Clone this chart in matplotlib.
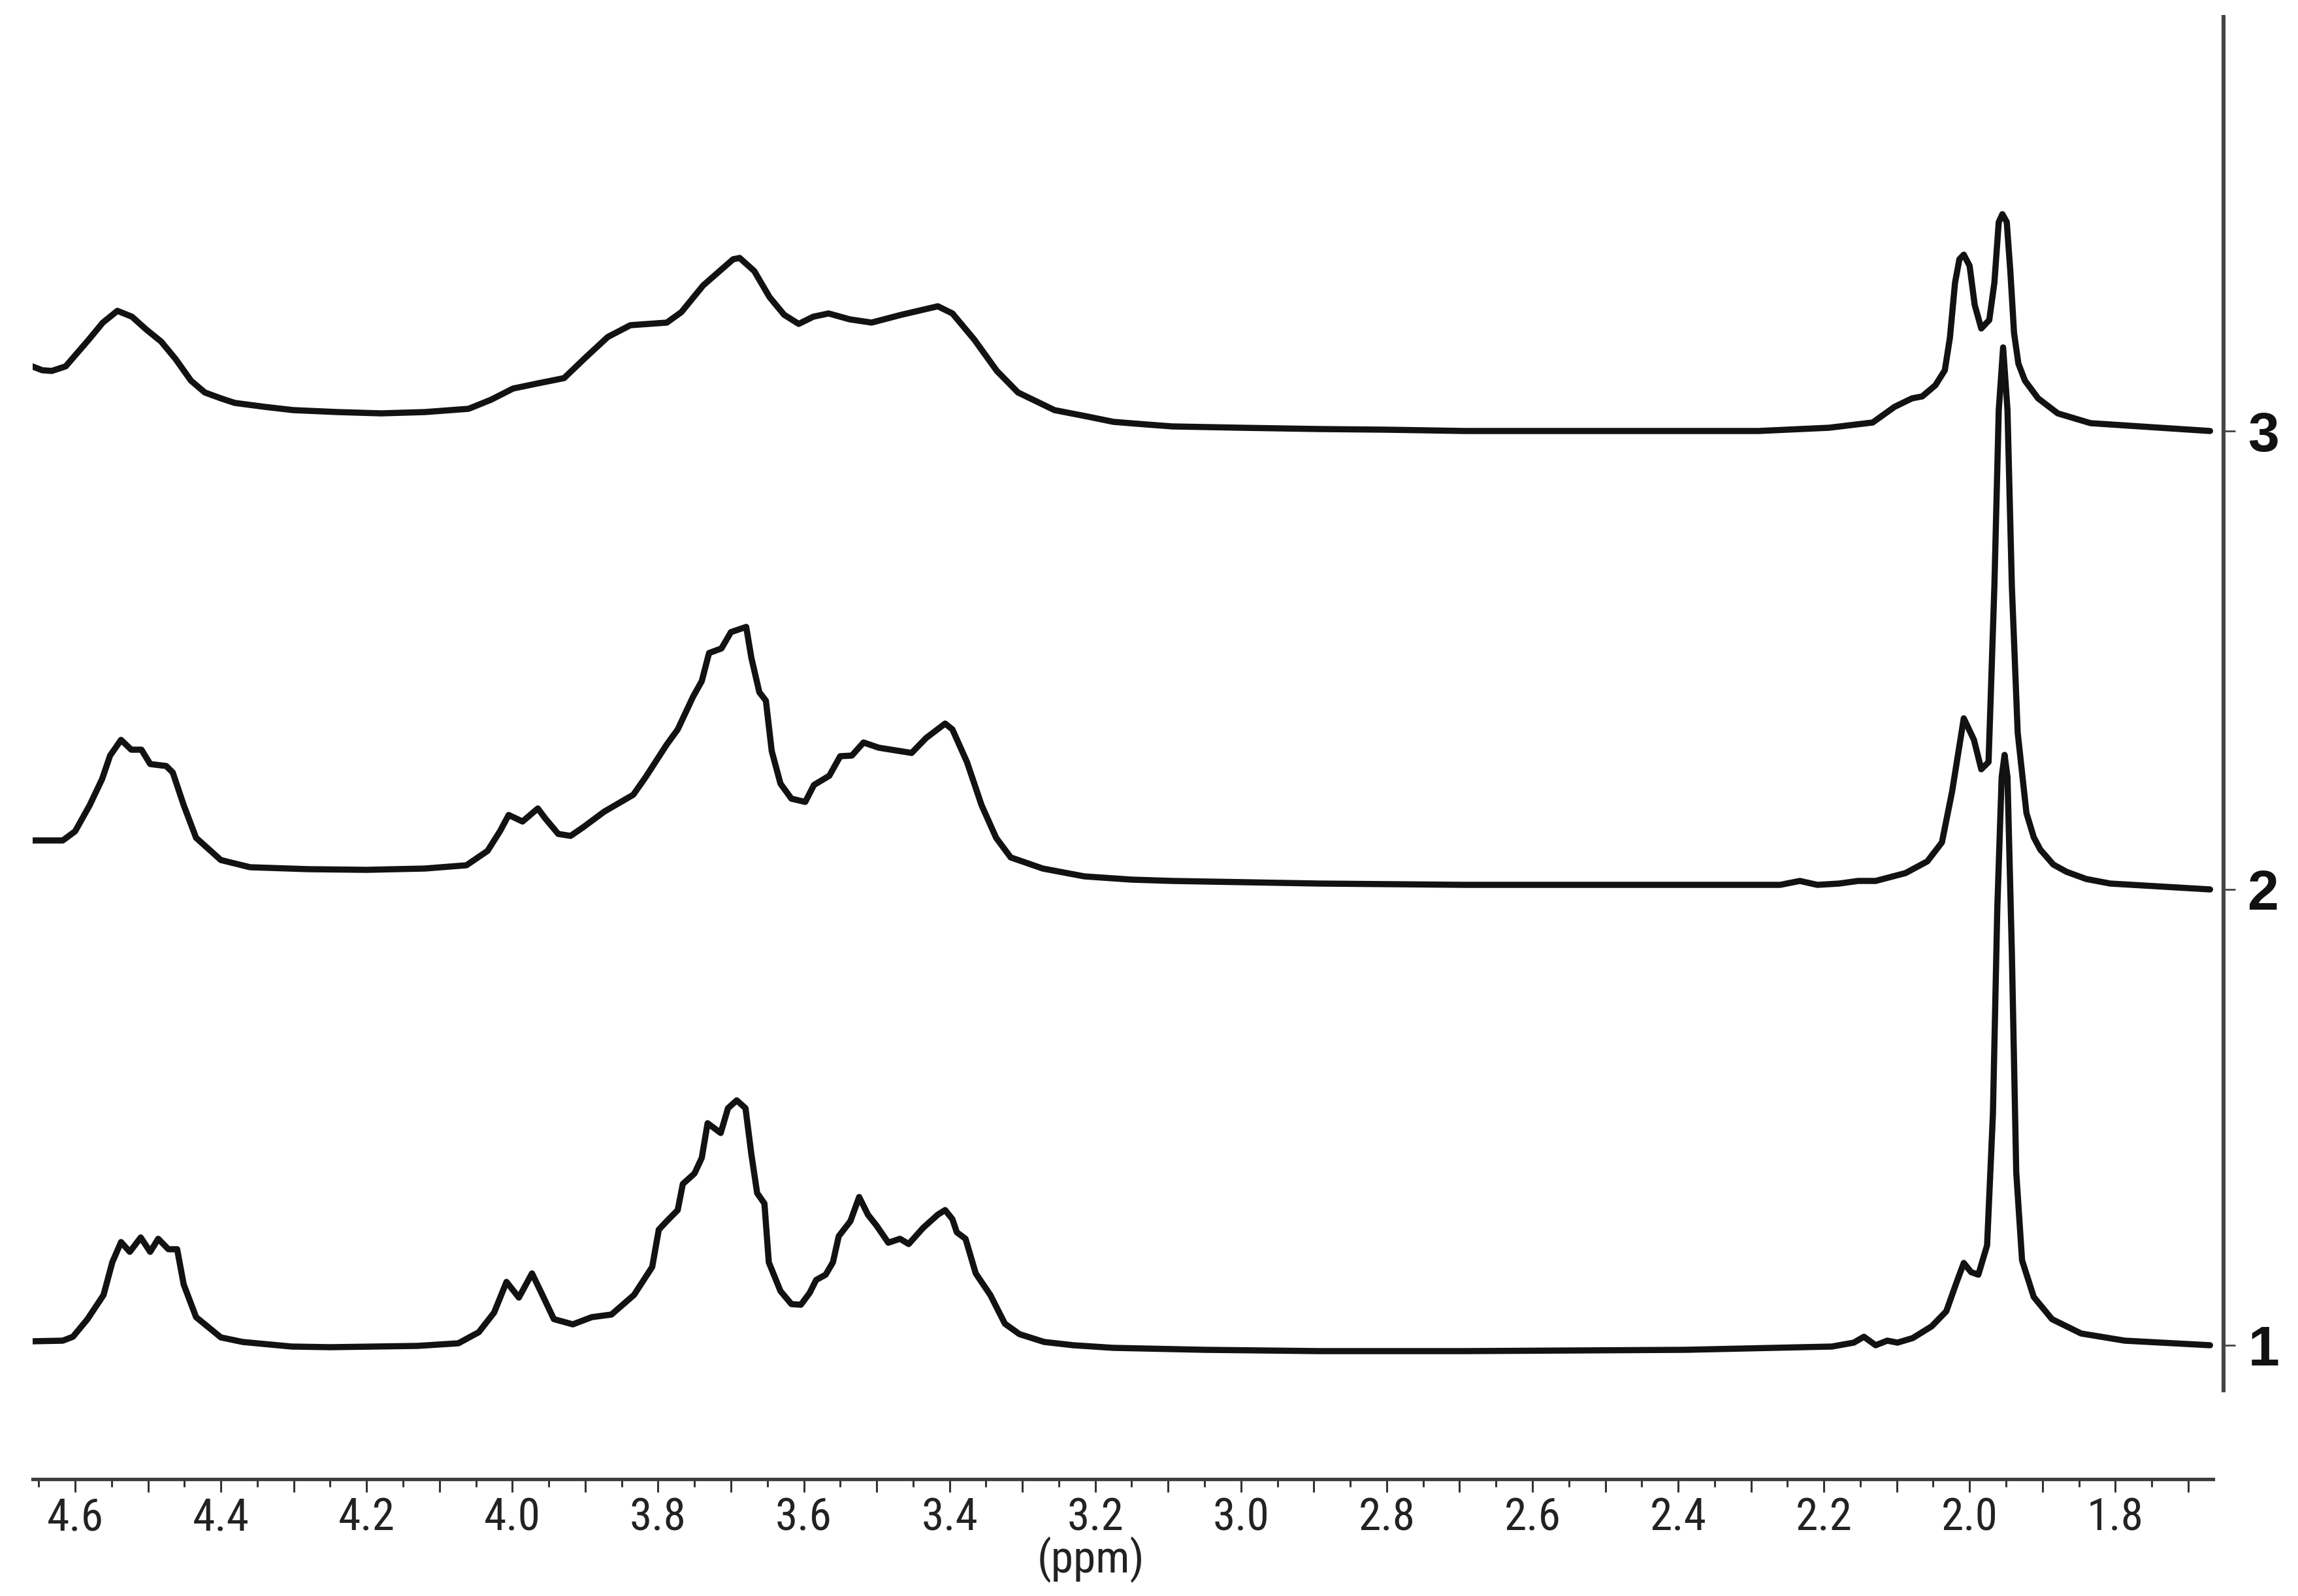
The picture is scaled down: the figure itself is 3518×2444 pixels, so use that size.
import numpy as np
import matplotlib
matplotlib.use("Agg")
import matplotlib.pyplot as plt
from matplotlib import font_manager
from matplotlib.ticker import FixedLocator, FuncFormatter, MultipleLocator

# ---------------- data ----------------
# spectrum 1 (bottom)
ppm1 = [4.660, 4.617, 4.603, 4.583, 4.561, 4.549, 4.537, 4.525, 4.510, 4.497, 4.486, 4.472,
        4.460, 4.451, 4.434, 4.400, 4.370, 4.303, 4.250, 4.189, 4.130, 4.074, 4.046, 4.025,
        4.008, 3.991, 3.973, 3.960, 3.943, 3.917, 3.891, 3.864, 3.833, 3.808, 3.799, 3.788,
        3.773, 3.766, 3.750, 3.740, 3.732, 3.714, 3.704, 3.692, 3.680, 3.672, 3.664, 3.654,
        3.648, 3.632, 3.617, 3.604, 3.592, 3.583, 3.570, 3.560, 3.552, 3.536, 3.524, 3.512,
        3.500, 3.484, 3.468, 3.456, 3.436, 3.416, 3.406, 3.396, 3.390, 3.378, 3.364, 3.344,
        3.324, 3.304, 3.270, 3.230, 3.175, 3.050, 2.893, 2.692, 2.390, 2.189, 2.159, 2.145,
        2.129, 2.113, 2.099, 2.078, 2.052, 2.032, 2.018, 2.008, 1.998, 1.988, 1.976, 1.968,
        1.962, 1.956, 1.952, 1.948, 1.942, 1.936, 1.928, 1.912, 1.887, 1.847, 1.787, 1.670]
int1 = [6, 7, 13, 40, 77, 127, 158, 143, 165, 143, 163, 147,
        147, 93, 43, 12, 5, -2, -3, -2, -1, 3, 20, 50,
        97, 73, 110, 80, 40, 32, 43, 47, 77, 120, 177, 190,
        207, 247, 263, 287, 340, 325, 363, 375, 363, 293, 233, 217,
        127, 83, 63, 62, 80, 100, 108, 127, 167, 190, 227, 200,
        183, 157, 163, 155, 180, 200, 207, 193, 173, 163, 110, 77,
        33, 17, 5, 0, -4, -7, -9, -9, -7, -2, 4, 13,
        0, 7, 4, 11, 29, 52, 96, 126, 112, 108, 153, 354,
        669, 870, 904, 870, 601, 265, 130, 74, 40, 18, 7, 0]

# spectrum 2 (middle)
ppm2 = [4.660, 4.617, 4.600, 4.580, 4.563, 4.552, 4.537, 4.523, 4.509, 4.497, 4.475, 4.466,
        4.451, 4.434, 4.400, 4.360, 4.280, 4.200, 4.120, 4.063, 4.034, 4.017, 4.005, 3.986,
        3.965, 3.955, 3.937, 3.920, 3.903, 3.874, 3.834, 3.817, 3.788, 3.773, 3.752, 3.740,
        3.730, 3.713, 3.700, 3.679, 3.672, 3.661, 3.652, 3.644, 3.632, 3.617, 3.598, 3.586,
        3.565, 3.550, 3.534, 3.518, 3.497, 3.452, 3.432, 3.406, 3.396, 3.376, 3.356, 3.336,
        3.316, 3.272, 3.215, 3.150, 3.094, 2.893, 2.692, 2.390, 2.260, 2.233, 2.209, 2.179,
        2.153, 2.129, 2.088, 2.058, 2.038, 2.024, 2.008, 1.994, 1.984, 1.974, 1.966, 1.960,
        1.954, 1.948, 1.942, 1.934, 1.922, 1.912, 1.903, 1.885, 1.867, 1.840, 1.807, 1.670]
int2 = [75, 75, 89, 129, 169, 205, 229, 214, 214, 192, 189, 179,
        129, 79, 45, 34, 31, 30, 32, 37, 59, 89, 114, 104,
        124, 109, 85, 82, 95, 119, 145, 172, 222, 245, 295, 319,
        362, 369, 394, 402, 355, 302, 289, 212, 162, 139, 134, 160,
        174, 204, 205, 225, 217, 209, 232, 254, 245, 195, 129, 79,
        49, 32, 20, 15, 13, 9, 7, 7, 7, 13, 7, 9,
        13, 13, 25, 43, 72, 150, 262, 229, 184, 195, 464, 734,
        830, 734, 464, 240, 117, 80, 61, 38, 27, 16, 9, 0]

# spectrum 3 (top)
ppm3 = [4.659, 4.645, 4.632, 4.613, 4.582, 4.562, 4.542, 4.522, 4.502, 4.482, 4.462, 4.441,
        4.422, 4.400, 4.381, 4.340, 4.301, 4.240, 4.180, 4.120, 4.060, 4.029, 3.999, 3.969,
        3.929, 3.899, 3.869, 3.838, 3.788, 3.768, 3.738, 3.697, 3.688, 3.668, 3.647, 3.627,
        3.607, 3.587, 3.566, 3.537, 3.507, 3.466, 3.416, 3.396, 3.366, 3.335, 3.306, 3.256,
        3.210, 3.175, 3.130, 3.094, 3.000, 2.893, 2.800, 2.692, 2.290, 2.193, 2.133, 2.103,
        2.079, 2.065, 2.047, 2.034, 2.027, 2.020, 2.014, 2.008, 2.000, 1.993, 1.984, 1.973,
        1.966, 1.960, 1.955, 1.949, 1.944, 1.939, 1.933, 1.924, 1.906, 1.879, 1.834, 1.766,
        1.670]
int3 = [99, 93, 92, 99, 139, 166, 184, 175, 155, 137, 110, 77,
        59, 50, 43, 37, 32, 29, 27, 29, 34, 48, 65, 72,
        81, 113, 144, 162, 166, 182, 223, 263, 265, 245, 205, 178,
        164, 175, 180, 171, 166, 178, 191, 180, 140, 92, 59, 32,
        22, 14, 10, 7, 5, 3, 2, 0, 0, 5, 13, 37,
        50, 53, 70, 93, 143, 227, 263, 270, 253, 193, 157, 170,
        227, 320, 332, 320, 243, 150, 103, 77, 50, 27, 12, 7,
        0]

spectra = [(ppm1, int1), (ppm2, int2), (ppm3, int3)]
spectrum_labels = ["1", "2", "3"]

# ---------------- layout / style ----------------
W, H, DPI = 3518, 2444, 200
offsets = [205, 903, 1605]          # vertical stacking of the spectra


def pick_narrow():
    fl = font_manager.fontManager.ttflist
    names = {f.name for f in fl}
    for nm in ("Liberation Sans Narrow", "Roboto Condensed", "Open Sans Condensed",
               "Noto Sans Condensed", "DejaVu Sans Condensed"):
        if nm in names:
            return dict(family=[nm, "DejaVu Sans"]), 25
    for f in fl:
        if f.stretch in ("condensed", "semi-condensed") and f.style == "normal" \
                and f.weight in (400, "normal", "regular"):
            return dict(family=[f.name, "DejaVu Sans"], stretch=f.stretch), 25
    if "Liberation Sans" in names:
        return dict(family=["Liberation Sans", "DejaVu Sans"]), 22.5
    return dict(family=["DejaVu Sans"]), 21


narrow_kw, tick_fs = pick_narrow()
names = {f.name for f in font_manager.fontManager.ttflist}
boldfam = "Liberation Sans" if "Liberation Sans" in names else "DejaVu Sans"

fig = plt.figure(figsize=(W / DPI, H / DPI), dpi=DPI)
ax_left, ax_right = 50, 3404
ax_bottom, ax_top = 2265, 26
ax = fig.add_axes([ax_left / W, 1 - ax_bottom / H, (ax_right - ax_left) / W, (ax_bottom - ax_top) / H])
ax.set_facecolor("white")

for (p, v), off in zip(spectra, offsets):
    ax.plot(p, np.asarray(v) + off, color="#121212", lw=3.4,
            solid_joinstyle="round", solid_capstyle="round")

xmin, xmax = 4.6583, 1.6515
ax.set_xlim(xmin, xmax)
ax.set_ylim(0, ax_bottom - ax_top)

for s in ("left", "top"):
    ax.spines[s].set_visible(False)
ax.spines["bottom"].set_bounds(4.658, 1.666)
ax.spines["bottom"].set_color("#3c3c3c")
ax.spines["bottom"].set_linewidth(1.9)
ax.spines["right"].set_bounds(136, ax_bottom - ax_top)
ax.spines["right"].set_color("#454545")
ax.spines["right"].set_linewidth(2.2)

majors = np.round(np.arange(1.7, 4.65, 0.1), 2)
ax.xaxis.set_major_locator(FixedLocator(majors))
ax.xaxis.set_minor_locator(MultipleLocator(0.05))
ax.xaxis.set_major_formatter(FuncFormatter(
    lambda v, pos: f"{v:.1f}" if int(round(v * 10)) % 2 == 0 else ""))
ax.tick_params(axis="x", which="major", direction="out", length=7.2, width=1.1,
               color="#333333", pad=2.5, labelsize=tick_fs, labelcolor="#222222")
ax.tick_params(axis="x", which="minor", direction="out", length=4.3, width=1.1,
               color="#333333")
for t in ax.get_xticklabels():
    t.update(narrow_kw)

ax.yaxis.tick_right()
ax.set_yticks(offsets)
ax.set_yticklabels(spectrum_labels)
ax.tick_params(axis="y", direction="out", length=6.5, width=1.0, color="#444444",
               pad=7, labelsize=31, labelcolor="#111111")
for t in ax.get_yticklabels():
    t.set_family([boldfam, "DejaVu Sans"])
    t.set_fontweight("bold")

ax.set_xlabel("(ppm)", fontsize=tick_fs, color="#222222", **narrow_kw)
ax.xaxis.set_label_coords((1670 - ax_left) / (ax_right - ax_left),
                          (ax_bottom - 2352) / (ax_bottom - ax_top))

fig.savefig("out.png", dpi=DPI, facecolor="white")
